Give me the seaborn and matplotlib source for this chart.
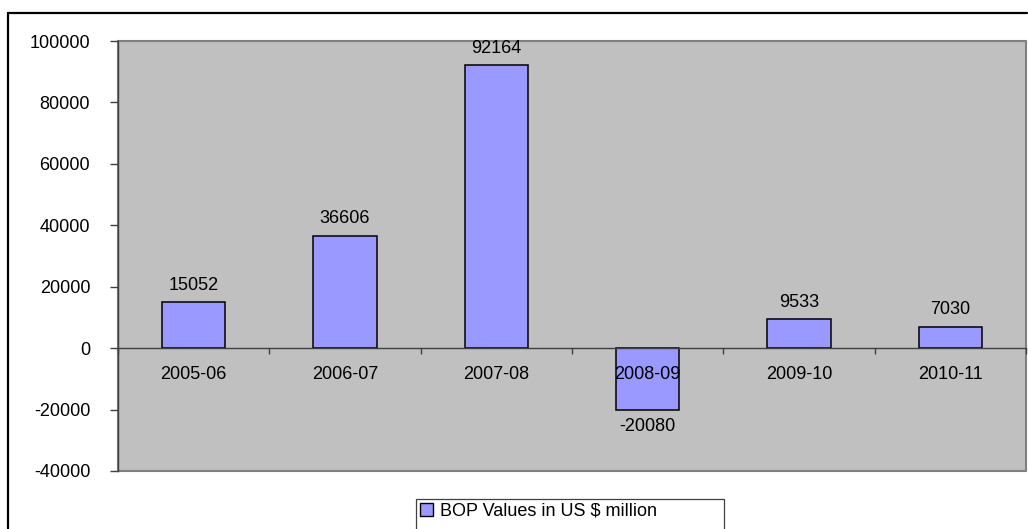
import matplotlib
matplotlib.use("Agg")
import matplotlib.pyplot as plt
import seaborn as sns
import pandas as pd
from matplotlib.patches import Rectangle, Patch
from matplotlib.lines import Line2D

years = ["2005-06", "2006-07", "2007-08", "2008-09", "2009-10", "2010-11"]
bop_values = [15052, 36606, 92164, -20080, 9533, 7030]
series_name = "BOP Values in US $ million"
y_ticks = [-40000, -20000, 0, 20000, 40000, 60000, 80000, 100000]

sns.set_style("white")
plt.rcParams["font.family"] = ["Liberation Sans", "DejaVu Sans"]
plt.rcParams["text.color"] = "black"
plt.rcParams["xtick.labelcolor"] = "black"
plt.rcParams["ytick.labelcolor"] = "black"
FS = 13

W, H = 1028, 529
fig = plt.figure(figsize=(W / 100, H / 100), dpi=100)
ax = fig.add_axes([118 / W, 1 - 471 / H, 908 / W, 430 / H])

df = pd.DataFrame({"year": years, "value": bop_values})
sns.barplot(data=df, x="year", y="value", color="#9999FF", saturation=1,
            edgecolor="black", linewidth=1.1, width=0.42, ax=ax)

ax.set_axisbelow(False)
ax.set_facecolor("#C0C0C0")
ax.patch.set_edgecolor("#808080")
ax.patch.set_linewidth(1.5)
ax.set_xlim(-0.5, len(years) - 0.5)
ax.set_ylim(-40000, 100000)
ax.set_yticks(y_ticks)
ax.set_yticklabels([str(v) for v in y_ticks], fontsize=FS, color="black")
ax.set_xlabel("")
ax.set_ylabel("")

for s in ["top", "right"]:
    ax.spines[s].set_visible(False)
ax.spines["left"].set_color("#404040")
ax.spines["left"].set_linewidth(1.0)
ax.spines["bottom"].set_position(("data", 0))
ax.spines["bottom"].set_color("#404040")
ax.spines["bottom"].set_linewidth(1.0)

ax.tick_params(axis="y", which="major", direction="out", length=6, width=1,
               color="#404040", pad=14, left=True)
ax.set_xticks(range(len(years)))
ax.set_xticklabels(years, fontsize=FS, color="black")
ax.tick_params(axis="x", which="major", length=0, pad=13)
ax.set_xticks([i - 0.5 for i in range(len(years) + 1)], minor=True)
ax.tick_params(axis="x", which="minor", direction="out", length=4, width=1,
               color="#404040", bottom=True)

for c in ax.containers:
    ax.bar_label(c, labels=[str(v) for v in bop_values], padding=6,
                 fontsize=FS, color="black")

# outer chart border (top and left visible)
fig.add_artist(Line2D([8 / W, 1027 / W], [1 - 13 / H, 1 - 13 / H],
                      transform=fig.transFigure, color="black", linewidth=1.6))
fig.add_artist(Line2D([8 / W, 8 / W], [1 - 13 / H, 0],
                      transform=fig.transFigure, color="black", linewidth=1.6))

# legend
fig.add_artist(Rectangle((416 / W, -0.05), (724 - 416) / W, 1 - 499 / H + 0.05,
                         transform=fig.transFigure, facecolor="white",
                         edgecolor="#404040", linewidth=0.9))
handle = Patch(facecolor="#9999FF", edgecolor="black", linewidth=1.0)
fig.legend([handle], [series_name], loc="center left",
           bbox_to_anchor=(418 / W, 1 - 511 / H), frameon=False, fontsize=FS,
           handlelength=0.75, handleheight=0.75, handletextpad=0.35,
           borderpad=0.1, borderaxespad=0)

fig.savefig("out.png", dpi=100)
